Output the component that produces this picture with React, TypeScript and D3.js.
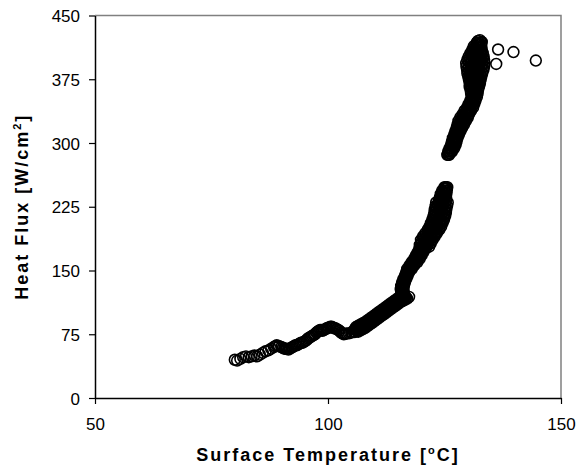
import React, { useEffect, useRef } from 'react';
import * as d3 from 'd3';

// [surface temperature °C, heat flux W/cm²]
const lowPoints: [number, number][] = [
  [80.0, 45], [80.5, 44], [81.2, 46], [81.8, 48], [82.4, 49], [83.0, 48], [83.6, 49], [84.2, 50], [84.8, 49],
  [85.4, 51], [86.0, 53], [86.6, 55], [87.2, 56], [87.8, 58], [88.4, 60], [89.0, 62], [89.5, 61], [90.0, 60],
  [90.6, 58], [91.2, 58], [91.8, 58], [92.4, 60], [93.0, 62], [93.6, 63], [94.2, 65], [94.8, 66], [95.4, 68],
  [96.0, 71], [96.6, 73], [97.2, 75], [97.8, 78], [98.3, 80], [98.8, 79], [99.4, 81], [99.9, 82], [100.5, 84],
  [101.0, 83], [101.6, 82], [102.2, 80], [102.8, 77], [103.4, 75], [104.0, 76],
  [88.7, 61], [89.3, 61], [90.3, 59], [90.9, 58], [91.5, 57], [92.1, 59], [92.7, 61], [93.3, 62], [93.9, 64],
  [94.5, 65], [95.1, 67], [95.7, 70], [96.3, 72], [96.9, 74], [97.5, 77], [98.0, 79], [98.6, 80], [99.1, 80],
  [99.7, 82], [100.2, 83], [100.8, 84], [101.3, 82], [101.9, 81], [102.5, 79], [103.1, 76], [103.7, 75.5],
];

// gently rising part, 104-117 °C
const flatCenter: [number, number][] = [
  [104.5, 76], [105.0, 77], [105.5, 78.5], [106.0, 80], [106.5, 81.5], [107.0, 83], [107.5, 84.5], [108.0, 86],
  [108.5, 88], [109.0, 90], [109.5, 92], [110.0, 94], [110.5, 96], [111.0, 98], [111.5, 100], [112.0, 102],
  [112.5, 104], [113.0, 106], [113.5, 108], [114.0, 110], [114.5, 112], [115.0, 114], [115.5, 116], [116.0, 117.5],
  [116.5, 119],
];
const flatUpper: [number, number][] = [
  [106.0, 83.5], [106.5, 85], [107.0, 86.5], [107.5, 88], [108.0, 89.5], [108.5, 91.5], [109.0, 93.5], [109.5, 95.5],
  [110.0, 97.5], [110.5, 99.5], [111.0, 101.5], [111.5, 103.5], [112.0, 105.5], [112.5, 107.5], [113.0, 109.5],
  [113.5, 111.5], [114.0, 113.5], [114.5, 115.5], [115.0, 117.5], [115.5, 119.5], [116.0, 121],
];
const flatLower: [number, number][] = [
  [106.5, 78], [107.0, 79.5], [107.5, 81], [108.0, 82.5], [108.5, 84.5], [109.0, 86.5], [109.5, 88.5], [110.0, 90.5],
  [110.5, 92.5], [111.0, 94.5], [111.5, 96.5], [112.0, 98.5], [112.5, 100.5], [113.0, 102.5], [113.5, 104.5],
  [114.0, 106.5], [114.5, 108.5], [115.0, 110.5], [115.5, 112.5], [116.0, 114], [116.5, 115.5], [117.0, 117],
  [117.4, 119],
];
const flatUpperMid: [number, number][] = [
  [105.75, 81], [106.25, 82.5], [106.75, 84], [107.25, 85.5], [107.75, 87], [108.25, 88.75], [108.75, 90.75],
  [109.25, 92.75], [109.75, 94.75], [110.25, 96.75], [110.75, 98.75], [111.25, 100.75], [111.75, 102.75],
  [112.25, 104.75], [112.75, 106.75], [113.25, 108.75], [113.75, 110.75], [114.25, 112.75], [114.75, 114.75],
  [115.25, 116.75], [115.75, 118.5], [116.25, 120],
];
const flatLowerMid: [number, number][] = [
  [105.75, 77.5], [106.25, 79], [106.75, 80.5], [107.25, 82], [107.75, 83.5], [108.25, 85.25], [108.75, 87.25],
  [109.25, 89.25], [109.75, 91.25], [110.25, 93.25], [110.75, 95.25], [111.25, 97.25], [111.75, 99.25],
  [112.25, 101.25], [112.75, 103.25], [113.25, 105.25], [113.75, 107.25], [114.25, 109.25], [114.75, 111.25],
  [115.25, 113.25], [115.75, 115], [116.25, 116.5], [116.75, 118],
];

// steep rise, flux levels and rows of temperatures across the band
const steepFlux = [120, 124, 128, 132, 136, 140, 144, 148, 152, 156, 160, 164, 168, 172, 176, 180, 184, 188, 192, 196, 200, 204, 208, 212, 216, 220, 224, 228, 232, 236, 240, 244, 248];
const steepLeft = [115.9, 115.7, 115.6, 115.7, 115.9, 116.2, 116.5, 116.8, 117.0, 117.5, 118.0, 118.5, 118.9, 119.3, 119.6, 119.8, 120.1, 120.5, 121.0, 121.5, 122.0, 122.3, 122.6, 122.9, 123.1, 123.2, 123.4, 123.6, 123.8, 124.0, 124.2, 124.5, 125.0];
const steepMid = [116.2, 116.0, 115.9, 116.0, 116.2, 116.5, 116.8, 117.1, 117.5, 118.0, 118.6, 119.1, 119.5, 119.9, 120.3, 120.6, 121.0, 121.4, 121.9, 122.4, 122.9, 123.2, 123.5, 123.8, 124.0, 124.1, 124.25, 124.4, 124.5, 124.6, 124.8, 125.0, 125.3];
const steepRight = [116.5, 116.3, 116.2, 116.3, 116.5, 116.8, 117.1, 117.4, 118.0, 118.5, 119.2, 119.7, 120.1, 120.5, 121.0, 121.4, 121.9, 122.3, 122.8, 123.3, 123.8, 124.1, 124.4, 124.7, 124.9, 125.0, 125.1, 125.2, 125.3, 125.35, 125.4, 125.5, 125.6];
const steepHalfFlux = [122, 126, 130, 134, 138, 142, 146, 150, 154, 158, 162, 166, 170, 174, 178, 182, 186, 190, 194, 198, 202, 206, 210, 214, 218, 222, 226, 230, 234, 238, 242, 246];
const steepHalfLeft = [115.95, 115.8, 115.8, 115.95, 116.2, 116.5, 116.8, 117.1, 117.5, 118.0, 118.55, 119.0, 119.4, 119.8, 120.1, 120.4, 120.75, 121.2, 121.7, 122.2, 122.6, 122.9, 123.2, 123.45, 123.6, 123.7, 123.9, 124.05, 124.2, 124.4, 124.6, 124.95];
const steepHalfRight = [116.25, 116.1, 116.1, 116.25, 116.5, 116.8, 117.1, 117.5, 118.0, 118.6, 119.15, 119.6, 120.0, 120.4, 120.8, 121.2, 121.65, 122.1, 122.6, 123.1, 123.5, 123.8, 124.1, 124.35, 124.5, 124.6, 124.75, 124.85, 124.9, 125.0, 125.2, 125.35];
const steepEdgeFlux = [186, 190, 194, 198, 202, 206, 210, 214, 218, 222, 226, 230];
const steepEdgeLeft = [119.95, 120.4, 120.9, 121.4, 121.8, 122.1, 122.4, 122.65, 122.8, 122.9, 123.1, 123.2];
const steepEdgeRightFlux = [178, 182, 186, 190, 194, 198, 202, 206, 210, 214, 218, 222, 226, 230];
const steepEdgeRight = [121.7, 122.05, 122.45, 122.9, 123.4, 123.9, 124.3, 124.6, 124.9, 125.15, 125.3, 125.4, 125.55, 125.7];
const looseCircle: [number, number][] = [[119.7, 180]];

// upper branch up to the critical heat flux
const upperFlux = [286, 290, 294, 298, 302, 306, 310, 314, 318, 322, 326, 330, 334, 338, 342, 346, 350, 354, 358, 362, 366, 370, 374, 378, 382, 386, 390, 394, 398, 402, 406, 410, 414, 418];
const upperLeft = [125.6, 125.8, 126.1, 126.4, 126.6, 126.8, 127.1, 127.35, 127.6, 127.8, 128.0, 128.4, 128.9, 129.3, 129.85, 130.2, 130.55, 130.85, 130.7, 130.6, 130.4, 130.4, 130.25, 130.1, 129.9, 129.85, 129.7, 129.65, 129.9, 130.2, 130.6, 131.0, 131.3, 131.9];
const upperMid = [125.8, 126.2, 126.6, 126.9, 127.1, 127.3, 127.6, 127.9, 128.2, 128.5, 128.8, 129.2, 129.6, 130.0, 130.5, 130.8, 131.1, 131.4, 131.4, 131.4, 131.4, 131.5, 131.5, 131.5, 131.5, 131.6, 131.6, 131.6, 131.7, 131.8, 131.9, 132.0, 132.1, 132.4];
const upperRight = [126.0, 126.6, 127.1, 127.4, 127.6, 127.8, 128.1, 128.45, 128.8, 129.2, 129.6, 130.0, 130.3, 130.7, 131.15, 131.4, 131.65, 131.95, 132.1, 132.2, 132.4, 132.6, 132.75, 132.9, 133.1, 133.35, 133.5, 133.55, 133.5, 133.4, 133.2, 133.0, 132.9, 132.9];
const upperHalfFlux = [288, 292, 296, 300, 304, 308, 312, 316, 320, 324, 328, 332, 336, 340, 344, 348, 352, 356, 360, 364];
const upperHalfLeft = [125.85, 126.2, 126.5, 126.75, 126.95, 127.2, 127.5, 127.75, 128.0, 128.3, 128.6, 129.0, 129.45, 129.9, 130.35, 130.65, 130.95, 131.1, 131.0, 130.9];
const upperHalfRight = [126.15, 126.6, 127.0, 127.25, 127.45, 127.7, 128.0, 128.35, 128.7, 129.05, 129.4, 129.8, 130.15, 130.6, 130.95, 131.25, 131.55, 131.7, 131.8, 131.9];

// broad cluster just below the peak
const blobFlux = [366, 370, 374, 378, 382, 386, 390, 394, 398, 402, 406];
const blobInnerLeft = [130.9, 130.95, 130.9, 130.8, 130.7, 130.7, 130.65, 130.6, 130.8, 131.0, 131.25];
const blobInnerRight = [131.9, 132.05, 132.1, 132.2, 132.3, 132.5, 132.55, 132.6, 132.6, 132.6, 132.55];
const blobHalfFlux = [368, 372, 376, 380, 384, 388, 392, 396, 400, 404, 408];
const blobHalfA = [130.65, 130.6, 130.5, 130.4, 130.3, 130.2, 130.15, 130.25, 130.5, 130.75, 131.1];
const blobHalfB = [131.2, 131.2, 131.15, 131.15, 131.1, 131.15, 131.1, 131.2, 131.3, 131.5, 131.7];
const blobHalfC = [131.7, 131.8, 131.85, 131.9, 132.0, 132.05, 132.1, 132.15, 132.2, 132.2, 132.25];
const blobHalfD = [132.25, 132.4, 132.5, 132.65, 132.8, 133.0, 133.05, 133.05, 133.0, 132.9, 132.8];
const peakPoints: [number, number][] = [
  [131.5, 412], [132.0, 412], [132.6, 412], [131.8, 416], [132.3, 416], [132.8, 416],
  [132.6, 421], [132.2, 420], [133.0, 419],
];

// points scattered past the peak
const outlierPoints: [number, number][] = [[136.1, 393], [136.5, 410], [139.8, 407], [144.6, 397]];

const xTicks = [50, 100, 150];
const yTicks = [0, 75, 150, 225, 300, 375, 450];

const zipRow = (temps: number[], flux: number[]): [number, number][] =>
  temps.map((t, i) => [t, flux[i]]);

const allPoints: [number, number][] = [
  ...lowPoints,
  ...flatCenter, ...flatUpper, ...flatLower, ...flatUpperMid, ...flatLowerMid,
  ...zipRow(steepLeft, steepFlux), ...zipRow(steepMid, steepFlux), ...zipRow(steepRight, steepFlux),
  ...zipRow(steepHalfLeft, steepHalfFlux), ...zipRow(steepHalfRight, steepHalfFlux),
  ...zipRow(steepEdgeLeft, steepEdgeFlux), ...zipRow(steepEdgeRight, steepEdgeRightFlux),
  ...looseCircle,
  ...zipRow(upperLeft, upperFlux), ...zipRow(upperMid, upperFlux), ...zipRow(upperRight, upperFlux),
  ...zipRow(upperHalfLeft, upperHalfFlux), ...zipRow(upperHalfRight, upperHalfFlux),
  ...zipRow(blobInnerLeft, blobFlux), ...zipRow(blobInnerRight, blobFlux),
  ...zipRow(blobHalfA, blobHalfFlux), ...zipRow(blobHalfB, blobHalfFlux),
  ...zipRow(blobHalfC, blobHalfFlux), ...zipRow(blobHalfD, blobHalfFlux),
  ...peakPoints,
  ...outlierPoints,
];

const App: React.FC = () => {
  const ref = useRef<SVGSVGElement>(null);

  useEffect(() => {
    if (!ref.current) return;
    const svg = d3.select(ref.current);
    svg.selectAll('*').remove();

    const left = 95, right = 561, top = 15.5, bottom = 398;
    const x = d3.scaleLinear().domain([50, 150]).range([left, right]);
    const y = d3.scaleLinear().domain([0, 450]).range([bottom, top]);
    const font = 'Arial, "Liberation Sans", sans-serif';

    // gray frame on top and right
    svg.append('path')
      .attr('d', `M${left},${top}H${right}V${bottom}`)
      .attr('fill', 'none')
      .attr('stroke', '#808080')
      .attr('stroke-width', 1.5);

    const xAxis = svg.append('g')
      .attr('transform', `translate(0,${bottom})`)
      .call(d3.axisBottom(x).tickValues(xTicks).tickSize(6).tickPadding(14).tickSizeOuter(0));
    const yAxis = svg.append('g')
      .attr('transform', `translate(${left},0)`)
      .call(d3.axisLeft(y).tickValues(yTicks).tickSize(6).tickPadding(9).tickSizeOuter(0));

    [xAxis, yAxis].forEach((g) => {
      g.select('.domain').attr('stroke', '#000').attr('stroke-width', 1.5);
      g.selectAll('.tick line').attr('stroke', '#000').attr('stroke-width', 1.2);
      g.selectAll('.tick text')
        .attr('font-family', font)
        .attr('font-size', 17)
        .attr('fill', '#000');
    });
    yAxis.selectAll('.tick text').attr('dy', '0.36em');

    // markers
    svg.append('g')
      .selectAll('circle')
      .data(allPoints)
      .enter()
      .append('circle')
      .attr('cx', (d) => x(d[0]))
      .attr('cy', (d) => y(d[1]))
      .attr('r', 5.4)
      .attr('fill', 'none')
      .attr('stroke', '#000')
      .attr('stroke-width', 1.6);

    // axis titles
    const xt = svg.append('text')
      .attr('x', x(100))
      .attr('y', 461)
      .attr('text-anchor', 'middle')
      .attr('font-family', font)
      .attr('font-size', 18)
      .attr('font-weight', 'bold')
      .attr('letter-spacing', 2)
      .attr('fill', '#000');
    xt.append('tspan').text('Surface Temperature [');
    xt.append('tspan').attr('font-size', 11).attr('dy', -7).text('o');
    xt.append('tspan').attr('dy', 7).text('C]');

    const yt = svg.append('text')
      .attr('transform', `translate(28,${(top + bottom) / 2}) rotate(-90)`)
      .attr('text-anchor', 'middle')
      .attr('font-family', font)
      .attr('font-size', 18)
      .attr('font-weight', 'bold')
      .attr('letter-spacing', 2)
      .attr('fill', '#000');
    yt.append('tspan').text('Heat Flux [W/cm');
    yt.append('tspan').attr('font-size', 11).attr('dy', -7).text('2');
    yt.append('tspan').attr('dy', 7).text(']');
  }, []);

  return (
    <svg
      ref={ref}
      width={587}
      height={468}
      style={{ position: 'absolute', left: 0, top: 0, background: '#fff' }}
    />
  );
};

export default App;
